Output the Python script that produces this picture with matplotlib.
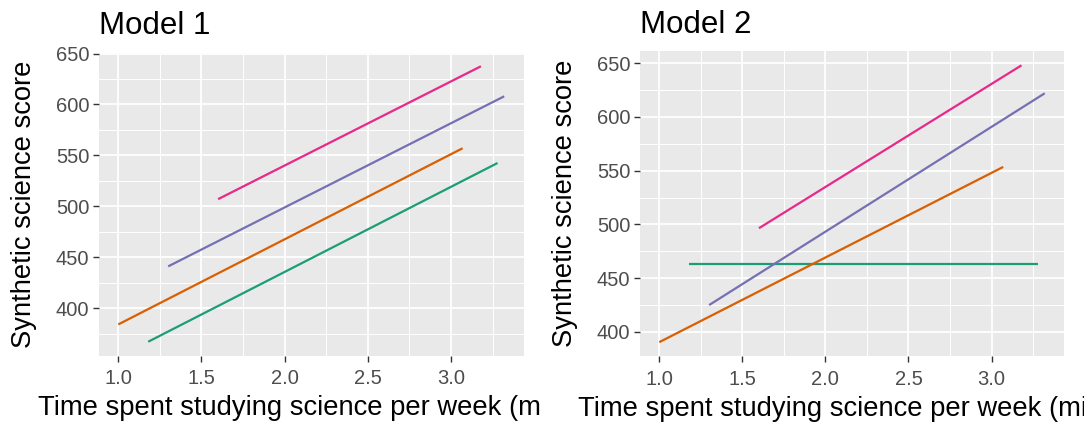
import matplotlib
matplotlib.use("Agg")
import matplotlib.pyplot as plt
from matplotlib.ticker import MultipleLocator
from matplotlib.transforms import Bbox, TransformedBbox

plt.rcParams["font.family"] = ["Liberation Sans", "DejaVu Sans"]

# Fitted lines per group: start/end of the study time range and predicted score
groups = ["A", "B", "C", "D"]
colors = ["#1B9E77", "#D95F02", "#7570B3", "#E7298A"]
x_start = [1.18, 1.00, 1.30, 1.60]
x_end = [3.28, 3.07, 3.32, 3.18]

model1_start = [367.0, 384.0, 441.0, 507.0]
model1_end = [542.5, 557.0, 608.0, 637.5]

model2_start = [463.0, 390.5, 425.0, 496.5]
model2_end = [463.0, 553.5, 622.0, 648.0]

titles = ["Model 1", "Model 2"]
xlabel = "Time spent studying science per week (mins)"
ylabel = "Synthetic science score"

fig = plt.figure(figsize=(10.84, 4.26), dpi=100)
ax1 = fig.add_axes([99 / 1084, 1 - 355.5 / 426, 424.5 / 1084, 303 / 426])
ax2 = fig.add_axes([640 / 1084, 1 - 356 / 426, 424 / 1084, 304.5 / 426])

panels = [(ax1, model1_start, model1_end, (0.0, 0.5)),
          (ax2, model2_start, model2_end, (0.5, 1.0))]

for i, (ax, y0, y1, half) in enumerate(panels):
    for g in range(len(groups)):
        ax.plot([x_start[g], x_end[g]], [y0[g], y1[g]], color=colors[g], lw=1.6,
                solid_capstyle="butt")
    ax.margins(x=0.05, y=0.05)

    # ggplot-like grey panel
    ax.set_facecolor("#E9E9E9")
    for s in ax.spines.values():
        s.set_visible(False)
    ax.xaxis.set_major_locator(MultipleLocator(0.5))
    ax.xaxis.set_minor_locator(MultipleLocator(0.25))
    ax.yaxis.set_major_locator(MultipleLocator(50))
    ax.yaxis.set_minor_locator(MultipleLocator(25))
    ax.grid(which="major", color="white", lw=1.3)
    ax.grid(which="minor", color="white", lw=0.7)
    ax.set_axisbelow(True)
    ax.tick_params(which="major", length=4, width=1.0, color="#333333",
                   labelcolor="#4D4D4D", labelsize=14.5)
    ax.tick_params(axis="x", which="major", pad=6)
    ax.tick_params(axis="y", which="major", pad=3)
    ax.tick_params(which="minor", length=0)
    ax.xaxis.set_major_formatter(plt.FuncFormatter(lambda v, p: f"{v:.1f}"))
    ax.yaxis.set_major_formatter(plt.FuncFormatter(lambda v, p: f"{v:.0f}"))

    ax.set_title(titles[i], loc="left", fontsize=22.5, pad=13)
    ax.set_ylabel(ylabel, fontsize=19.7)
    ax.set_xlabel(xlabel, fontsize=19.7)
    ax.yaxis.set_label_coords(-0.146, 0.5)
    ax.xaxis.set_label_coords(0.5, -0.13)

    # each panel's text is cut at its own half of the figure
    clip = TransformedBbox(Bbox([[half[0], 0], [half[1], 1]]), fig.transFigure)
    ax.xaxis.label.set_clip_box(clip)
    ax.xaxis.label.set_clip_on(True)

fig.savefig("out.png", dpi=100)
